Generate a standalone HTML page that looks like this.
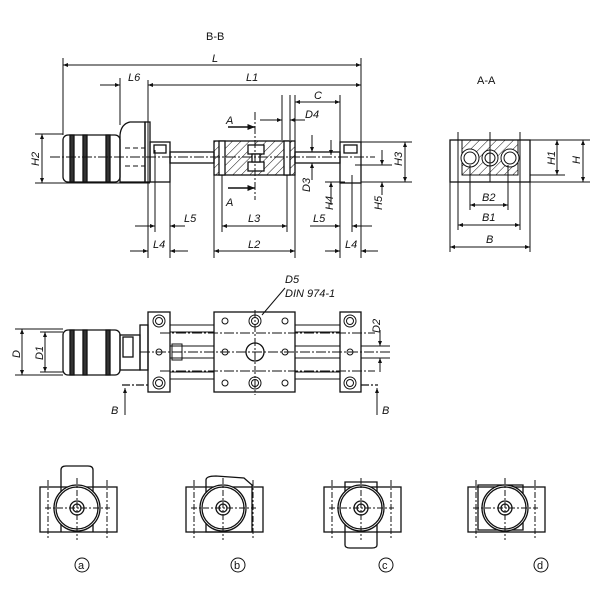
<!DOCTYPE html>
<html><head><meta charset="utf-8"><style>
html,body{margin:0;padding:0;background:#fff}
svg{display:block}
text{font-family:"Liberation Sans",sans-serif;font-style:italic;font-size:11px;fill:#111}
.n{font-style:normal}
</style></head><body>
<svg width="600" height="600" viewBox="0 0 600 600" xmlns="http://www.w3.org/2000/svg">
<defs>
<marker id="a" viewBox="0 0 10 10" refX="10" refY="5" markerWidth="9" markerHeight="5" orient="auto-start-reverse"><path d="M0,1 L10,5 L0,9z" fill="#111"/></marker>
<pattern id="h" width="6" height="6" patternUnits="userSpaceOnUse" patternTransform="rotate(45)"><line x1="0" y1="0" x2="0" y2="6" stroke="#111" stroke-width="1"/></pattern>
</defs>
<g stroke="#111" fill="none" stroke-width="1">
<text x="206" y="40" class="n" stroke="none">B-B</text>
<line x1="63" y1="58" x2="63" y2="135"/><line x1="361" y1="58" x2="361" y2="258"/>
<line x1="120" y1="78" x2="120" y2="125"/><line x1="148" y1="80" x2="148" y2="258"/>
<line x1="295" y1="95" x2="295" y2="258"/><line x1="340" y1="95" x2="340" y2="258"/>
<line x1="170" y1="145" x2="170" y2="258"/><line x1="155" y1="150" x2="155" y2="232"/>
<line x1="214" y1="175" x2="214" y2="258"/><line x1="222" y1="175" x2="222" y2="232"/>
<line x1="287" y1="175" x2="287" y2="232"/><line x1="352" y1="175" x2="352" y2="232"/>
<line x1="282" y1="95" x2="282" y2="140"/><line x1="290" y1="95" x2="290" y2="140"/>
<line x1="63" y1="65" x2="361" y2="65" marker-start="url(#a)" marker-end="url(#a)"/>
<text x="212" y="62" stroke="none">L</text>
<line x1="100" y1="85" x2="120" y2="85" marker-end="url(#a)"/>
<line x1="148" y1="85" x2="361" y2="85" marker-start="url(#a)" marker-end="url(#a)"/>
<text x="128" y="81" stroke="none">L6</text><text x="246" y="81" stroke="none">L1</text>
<line x1="295" y1="102" x2="340" y2="102" marker-start="url(#a)" marker-end="url(#a)"/>
<text x="314" y="99" stroke="none">C</text>
<line x1="260" y1="120" x2="282" y2="120" marker-end="url(#a)"/>
<line x1="305" y1="120" x2="290" y2="120" marker-end="url(#a)"/>
<text x="305" y="118" stroke="none">D4</text>
<line x1="35" y1="134" x2="63" y2="134"/><line x1="35" y1="183" x2="150" y2="183"/>
<line x1="42" y1="134" x2="42" y2="183" marker-start="url(#a)" marker-end="url(#a)"/>
<text transform="translate(39,166) rotate(-90)" stroke="none">H2</text>
<line x1="361" y1="142" x2="412" y2="142"/><line x1="361" y1="182" x2="412" y2="182"/>
<line x1="405" y1="142" x2="405" y2="182" marker-start="url(#a)" marker-end="url(#a)"/>
<text transform="translate(402,166) rotate(-90)" stroke="none">H3</text>
<line x1="312" y1="135" x2="312" y2="152" marker-end="url(#a)"/>
<line x1="312" y1="180" x2="312" y2="163" marker-end="url(#a)"/>
<text transform="translate(310,192) rotate(-90)" stroke="none">D3</text>
<line x1="331" y1="140" x2="331" y2="155" marker-end="url(#a)"/>
<line x1="331" y1="205" x2="331" y2="182" marker-end="url(#a)"/>
<line x1="325" y1="182" x2="345" y2="182"/>
<text transform="translate(333,210) rotate(-90)" stroke="none">H4</text>
<line x1="355" y1="165" x2="392" y2="165"/>
<line x1="382" y1="150" x2="382" y2="165" marker-end="url(#a)"/>
<line x1="382" y1="195" x2="382" y2="182" marker-end="url(#a)"/>
<text transform="translate(382,210) rotate(-90)" stroke="none">H5</text>
<line x1="135" y1="226" x2="155" y2="226" marker-end="url(#a)"/>
<line x1="185" y1="226" x2="170" y2="226" marker-end="url(#a)"/>
<text x="184" y="222" stroke="none">L5</text>
<line x1="222" y1="226" x2="287" y2="226" marker-start="url(#a)" marker-end="url(#a)"/>
<text x="248" y="222" stroke="none">L3</text>
<line x1="310" y1="226" x2="340" y2="226" marker-end="url(#a)"/>
<line x1="372" y1="226" x2="352" y2="226" marker-end="url(#a)"/>
<text x="313" y="222" stroke="none">L5</text>
<line x1="130" y1="251" x2="148" y2="251" marker-end="url(#a)"/>
<line x1="188" y1="251" x2="170" y2="251" marker-end="url(#a)"/>
<text x="153" y="248" stroke="none">L4</text>
<line x1="214" y1="251" x2="295" y2="251" marker-start="url(#a)" marker-end="url(#a)"/>
<text x="248" y="248" stroke="none">L2</text>
<line x1="325" y1="251" x2="340" y2="251" marker-end="url(#a)"/>
<line x1="378" y1="251" x2="361" y2="251" marker-end="url(#a)"/>
<text x="345" y="248" stroke="none">L4</text>
<g stroke-width="1.3">
<rect x="63" y="135" width="57" height="47" rx="5"/>
<rect x="70" y="135" width="4" height="47" fill="#333"/>
<rect x="83" y="135" width="4" height="47" fill="#333"/>
<rect x="106" y="135" width="4" height="47" fill="#333"/>
<path d="M120,135 L120,182 L145,182 L145,122 L130,122 Q121,124 120,135z"/>
<rect x="145" y="122" width="5" height="60"/>
<rect x="150" y="142" width="20" height="40"/>
<rect x="154" y="145" width="12" height="8"/>
<rect x="170" y="152" width="44" height="11"/>
<rect x="295" y="152" width="45" height="11"/>
<rect x="214" y="141" width="81" height="34" fill="url(#h)"/>
<rect x="248" y="145" width="16" height="9" fill="#fff"/><rect x="248" y="162" width="16" height="9" fill="#fff"/>
<rect x="252" y="154" width="8" height="8" fill="#fff"/>
<rect x="219" y="141" width="6" height="34" fill="#fff"/><rect x="284" y="141" width="6" height="34" fill="#fff"/>
<rect x="340" y="142" width="21" height="41"/>
<rect x="344" y="145" width="13" height="8"/>
</g>
<line x1="125" y1="148" x2="145" y2="148" stroke-dasharray="5,3"/><line x1="125" y1="166" x2="145" y2="166" stroke-dasharray="5,3"/>
<line x1="50" y1="157" x2="375" y2="157" stroke-dasharray="10,2,2,2"/>
<line x1="255" y1="112" x2="255" y2="200" stroke-dasharray="8,2,2,2"/>
<line x1="228" y1="127" x2="255" y2="127" stroke-width="1.5" marker-end="url(#a)"/>
<line x1="228" y1="188" x2="255" y2="188" stroke-width="1.5" marker-end="url(#a)"/>
<text x="226" y="124" font-size="14" stroke="none">A</text>
<text x="226" y="206" font-size="14" stroke="none">A</text>

<text x="477" y="84" class="n" stroke="none">A-A</text>
<rect x="450" y="140" width="80" height="42" stroke-width="1.3"/>
<rect x="462" y="140" width="56" height="35" fill="url(#h)"/>
<circle cx="470" cy="158" r="9" fill="#fff"/><circle cx="470" cy="158" r="6"/>
<circle cx="490" cy="158" r="8" fill="#fff"/><circle cx="490" cy="158" r="5"/>
<circle cx="510" cy="158" r="9" fill="#fff"/><circle cx="510" cy="158" r="6"/>
<line x1="458" y1="132" x2="458" y2="230"/><line x1="520" y1="132" x2="520" y2="230"/>
<line x1="490" y1="132" x2="490" y2="182"/>
<line x1="470" y1="165" x2="470" y2="210"/><line x1="508" y1="165" x2="508" y2="210"/>
<line x1="450" y1="182" x2="450" y2="252"/><line x1="530" y1="182" x2="530" y2="252"/>
<line x1="470" y1="205" x2="508" y2="205" marker-start="url(#a)" marker-end="url(#a)"/>
<text x="482" y="201" stroke="none">B2</text>
<line x1="458" y1="225" x2="520" y2="225" marker-start="url(#a)" marker-end="url(#a)"/>
<text x="482" y="221" stroke="none">B1</text>
<line x1="450" y1="247" x2="530" y2="247" marker-start="url(#a)" marker-end="url(#a)"/>
<text x="486" y="243" stroke="none">B</text>
<line x1="530" y1="140" x2="590" y2="140"/><line x1="530" y1="175" x2="565" y2="175"/><line x1="530" y1="182" x2="590" y2="182"/>
<line x1="557" y1="140" x2="557" y2="175" marker-start="url(#a)" marker-end="url(#a)"/>
<text transform="translate(555,165) rotate(-90)" stroke="none">H1</text>
<line x1="583" y1="140" x2="583" y2="182" marker-start="url(#a)" marker-end="url(#a)"/>
<text transform="translate(580,164) rotate(-90)" stroke="none">H</text>

<text x="285" y="283" stroke="none">D5</text>
<text x="285" y="297" stroke="none">DIN 974-1</text>
<line x1="285" y1="288" x2="262" y2="315"/>
<g stroke-width="1.3">
<rect x="63" y="330" width="57" height="45" rx="5"/>
<rect x="70" y="330" width="4" height="45" fill="#333"/>
<rect x="83" y="330" width="4" height="45" fill="#333"/>
<rect x="106" y="330" width="4" height="45" fill="#333"/>
<rect x="120" y="335" width="20" height="35"/>
<rect x="123" y="337" width="10" height="20"/>
<rect x="140" y="325" width="8" height="45"/>
<rect x="148" y="312" width="22" height="80"/>
<rect x="214" y="312" width="81" height="80"/>
<rect x="340" y="312" width="21" height="80"/>
</g>
<line x1="15" y1="329" x2="63" y2="329"/><line x1="15" y1="375" x2="63" y2="375"/>
<line x1="22" y1="329" x2="22" y2="375" marker-start="url(#a)" marker-end="url(#a)"/>
<text transform="translate(20,358) rotate(-90)" stroke="none">D</text>
<line x1="40" y1="332" x2="63" y2="332"/><line x1="40" y1="372" x2="63" y2="372"/>
<line x1="45" y1="332" x2="45" y2="372" marker-start="url(#a)" marker-end="url(#a)"/>
<text transform="translate(43,360) rotate(-90)" stroke="none">D1</text>
<line x1="170" y1="325" x2="214" y2="325"/><line x1="170" y1="332" x2="214" y2="332"/>
<line x1="295" y1="325" x2="340" y2="325"/><line x1="295" y1="332" x2="340" y2="332"/>
<line x1="170" y1="372" x2="214" y2="372"/><line x1="170" y1="379" x2="214" y2="379"/>
<line x1="295" y1="372" x2="340" y2="372"/><line x1="295" y1="379" x2="340" y2="379"/>
<line x1="170" y1="346" x2="214" y2="346"/><line x1="170" y1="358" x2="214" y2="358"/>
<line x1="295" y1="346" x2="340" y2="346"/><line x1="295" y1="358" x2="340" y2="358"/>
<rect x="172" y="344" width="10" height="16"/>
<line x1="160" y1="333" x2="375" y2="333" stroke-dasharray="10,2,2,2"/>
<line x1="160" y1="371" x2="375" y2="371" stroke-dasharray="10,2,2,2"/>
<line x1="140" y1="352" x2="390" y2="352" stroke-dasharray="10,2,2,2"/>
<line x1="255" y1="310" x2="255" y2="395" stroke-dasharray="8,2,2,2"/>
<circle cx="159" cy="321" r="6"/><circle cx="159" cy="321" r="3.5"/>
<circle cx="159" cy="383" r="6"/><circle cx="159" cy="383" r="3.5"/>
<circle cx="350" cy="321" r="6"/><circle cx="350" cy="321" r="3.5"/>
<circle cx="350" cy="383" r="6"/><circle cx="350" cy="383" r="3.5"/>
<circle cx="255" cy="321" r="6"/><circle cx="255" cy="321" r="3.5"/>
<circle cx="255" cy="383" r="6"/><circle cx="255" cy="383" r="3.5"/>
<circle cx="255" cy="352" r="9" stroke-width="1.3"/>
<circle cx="225" cy="321" r="3"/><circle cx="285" cy="321" r="3"/>
<circle cx="225" cy="383" r="3"/><circle cx="285" cy="383" r="3"/>
<circle cx="225" cy="352" r="3"/><circle cx="285" cy="352" r="3"/>
<circle cx="159" cy="352" r="3"/><circle cx="350" cy="352" r="3"/>
<line x1="361" y1="346" x2="390" y2="346"/><line x1="361" y1="358" x2="390" y2="358"/>
<line x1="380" y1="330" x2="380" y2="346" marker-end="url(#a)"/>
<line x1="380" y1="372" x2="380" y2="358" marker-end="url(#a)"/>
<text transform="translate(380,333) rotate(-90)" stroke="none">D2</text>
<line x1="122" y1="385" x2="148" y2="385" stroke-dasharray="8,2,2,2" stroke-width="1.3"/>
<line x1="361" y1="385" x2="378" y2="385" stroke-dasharray="8,2,2,2" stroke-width="1.3"/>
<line x1="125" y1="415" x2="125" y2="388" marker-end="url(#a)"/>
<line x1="377" y1="415" x2="377" y2="388" marker-end="url(#a)"/>
<text x="111" y="414" font-size="14" stroke="none">B</text>
<text x="382" y="414" font-size="14" stroke="none">B</text>

<g stroke-width="1.3">
<g>
<rect x="40" y="487" width="77" height="45"/>
<path d="M61,532 L61,470 Q61,466 66,466 L88,466 Q93,466 93,470 L93,532"/>
<circle cx="77" cy="508" r="23" fill="#fff"/><circle cx="77" cy="508" r="21"/>
<circle cx="77" cy="508" r="7"/><circle cx="77" cy="508" r="4"/>
</g>
<g transform="translate(146,0)">
<rect x="40" y="487" width="77" height="45"/>
<path d="M60,480 Q60,476 70,476 L98,478 L106,485 L106,532 L60,532z"/>
<circle cx="77" cy="508" r="23" fill="#fff"/><circle cx="77" cy="508" r="21"/>
<circle cx="77" cy="508" r="7"/><circle cx="77" cy="508" r="4"/>
</g>
<g transform="translate(284,0)">
<rect x="40" y="487" width="77" height="45"/>
<path d="M61,482 L93,482 L93,545 Q93,548 88,548 L66,548 Q61,548 61,545z"/>
<circle cx="77" cy="508" r="23" fill="#fff"/><circle cx="77" cy="508" r="21"/>
<circle cx="77" cy="508" r="7"/><circle cx="77" cy="508" r="4"/>
</g>
<g transform="translate(428,0)">
<rect x="40" y="487" width="77" height="45"/>
<path d="M50,485 L95,485 L95,530 L50,530z"/>
<circle cx="77" cy="508" r="23" fill="#fff"/><circle cx="77" cy="508" r="21"/>
<circle cx="77" cy="508" r="7"/><circle cx="77" cy="508" r="4"/>
</g>
</g>
<g stroke-dasharray="6,2,2,2">
<g><line x1="45" y1="508" x2="110" y2="508"/><line x1="77" y1="478" x2="77" y2="540"/><line x1="48" y1="480" x2="48" y2="540"/><line x1="107" y1="480" x2="107" y2="540"/></g>
<g transform="translate(146,0)"><line x1="45" y1="508" x2="110" y2="508"/><line x1="77" y1="478" x2="77" y2="540"/><line x1="48" y1="480" x2="48" y2="540"/><line x1="107" y1="480" x2="107" y2="540"/></g>
<g transform="translate(284,0)"><line x1="45" y1="508" x2="110" y2="508"/><line x1="77" y1="478" x2="77" y2="540"/><line x1="48" y1="480" x2="48" y2="540"/><line x1="107" y1="480" x2="107" y2="540"/></g>
<g transform="translate(428,0)"><line x1="45" y1="508" x2="110" y2="508"/><line x1="77" y1="478" x2="77" y2="540"/><line x1="48" y1="480" x2="48" y2="540"/><line x1="107" y1="480" x2="107" y2="540"/></g>
</g>
<circle cx="82" cy="565" r="7"/><circle cx="238" cy="565" r="7"/><circle cx="386" cy="565" r="7"/><circle cx="541" cy="565" r="7"/>
<text x="78" y="569" class="n" stroke="none">a</text><text x="234" y="569" class="n" stroke="none">b</text>
<text x="382" y="569" class="n" stroke="none">c</text><text x="537" y="569" class="n" stroke="none">d</text>
</g>
</svg>
</body></html>
